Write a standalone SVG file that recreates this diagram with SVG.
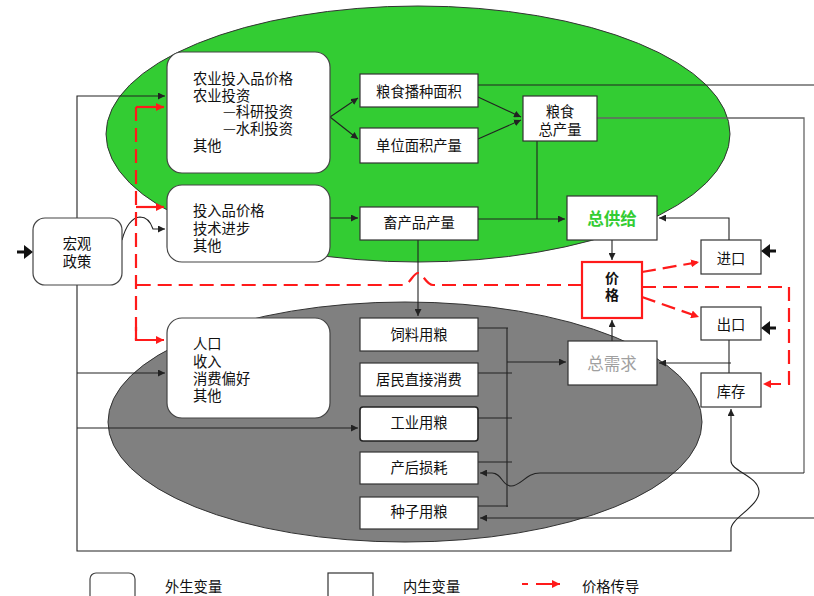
<svg xmlns="http://www.w3.org/2000/svg" width="814" height="596" viewBox="0 0 814 596">
<defs>
<style>
text{font-family:"Noto Sans CJK SC","Liberation Sans",sans-serif;font-size:14.3px;fill:#111}
.c{text-anchor:middle;dominant-baseline:central}
.l{dominant-baseline:central}
.box{fill:#fff;stroke:#333;stroke-width:1.2}
.rbox{fill:#fff;stroke:#444;stroke-width:1.2}
.ln{fill:none;stroke:#222;stroke-width:1.1}
.gl{fill:none;stroke:#666;stroke-width:1.3}
.rd{fill:none;stroke:#ff1a1a;stroke-width:2.2;stroke-dasharray:14 7}
.rs{fill:none;stroke:#ff1a1a;stroke-width:2.2}
</style>
<marker id="a" viewBox="0 0 8 8" refX="8" refY="4" markerWidth="7" markerHeight="7" markerUnits="userSpaceOnUse" orient="auto"><path d="M0,0 L8,4 L0,8 z" fill="#222"/></marker>
<marker id="ar" viewBox="0 0 8 8" refX="8" refY="4" markerWidth="8" markerHeight="8" markerUnits="userSpaceOnUse" orient="auto"><path d="M0,0 L8,4 L0,8 z" fill="#ff1a1a"/></marker>
</defs>
<rect width="814" height="596" fill="#fff"/>
<g id="supply-area"><ellipse cx="418" cy="134" rx="312" ry="128" fill="#33cc33" stroke="#333" stroke-width="1"/></g>
<g id="demand-area"><ellipse cx="405" cy="422" rx="297" ry="120" fill="#808080" stroke="#333" stroke-width="1"/></g>

<g id="connectors">
<path class="ln" d="M77,218 L77,96 L165,96" marker-end="url(#a)"/>
<path class="ln" d="M77,285 L77,551 L731,551 L731,529 C731,518 760,506 759,491 C758,476 731,471 731,461 L731,409" marker-end="url(#a)"/>
<path class="ln" d="M77,373 L165,373" marker-end="url(#a)"/>
<path class="ln" d="M77,428 L358,428" marker-end="url(#a)"/>
<path class="ln" d="M122,240 Q128,218 140,217 Q149,217 153,229 L165,229" marker-end="url(#a)"/>
<path class="ln" d="M330,117 L358,98" marker-end="url(#a)"/>
<path class="ln" d="M330,117 L358,139" marker-end="url(#a)"/>
<path class="ln" d="M478,97 L521,117" marker-end="url(#a)"/>
<path class="ln" d="M478,139 L521,120" marker-end="url(#a)"/>
<path class="ln" d="M330,218 L358,218" marker-end="url(#a)"/>
<path class="ln" d="M478,219 L565,219" marker-end="url(#a)"/>
<path class="ln" d="M537,141 L537,219"/>
<path class="ln" d="M729,240 L729,218 L659,218" marker-end="url(#a)"/>
<path class="ln" d="M612,240 L612,260" marker-end="url(#a)"/>
<path class="ln" d="M478,85 L814,85"/>
<path class="gl" d="M597,118 L804,118 L804,473"/>
<path class="ln" d="M804,473 L540,473 C526,473 521,486 511,486 C502,486 502,473 492,473 L480,473" marker-end="url(#a)"/>
<path class="ln" d="M814,518 L480,518" marker-end="url(#a)"/>
<path class="ln" d="M418,240 L418,316" marker-end="url(#a)"/>
<path class="ln" d="M478,328 L508,328 M507,328 L507,507 M478,373 L512,373 M478,418 L512,418 M478,462 L512,462 M478,506 L508,506"/>
<path class="ln" d="M507,362 L566,362" marker-end="url(#a)"/>
<path class="ln" d="M612,341 L612,320" marker-end="url(#a)"/>
<path class="ln" d="M729,340 L729,373"/>
<path class="ln" d="M731,363 L659,363" marker-end="url(#a)"/>
<path d="M17,252 L26,252" stroke="#111" stroke-width="3"/><path d="M24,245 L33,252 L24,259 z" fill="#111"/>
<path d="M776,251 L768,251" stroke="#111" stroke-width="3"/><path d="M770,244 L761,251 L770,258 z" fill="#111"/>
<path d="M776,328 L768,328" stroke="#111" stroke-width="3"/><path d="M770,321 L761,328 L770,335 z" fill="#111"/>
<path class="rd" d="M582,285 L433,285 C426,285 423,273 418,273 C413,273 410,285 403,285 L137,285"/>
<path class="rd" d="M136,107 L136,340"/>
<path class="rs" d="M136,107 L164,107" marker-end="url(#ar)"/>
<path class="rs" d="M136,207 L164,207" marker-end="url(#ar)"/>
<path class="rs" d="M136,327 L136,340 L164,340" marker-end="url(#ar)"/>
<path class="rd" d="M642,287 L789,287 L789,384 L763,384" marker-end="url(#ar)"/>
<path class="rd" d="M642,272 L699,262" marker-end="url(#ar)"/>
<path class="rd" d="M642,297 L699,317" marker-end="url(#ar)"/>
</g>

<g id="macro-policy"><rect class="rbox" x="33" y="218" width="89" height="67" rx="12"/><text class="c" x="77" y="242">宏观</text><text class="c" x="77" y="260">政策</text></g>
<g id="ag-inputs"><rect class="rbox" x="167" y="52" width="163" height="121" rx="15"/>
<text class="l" x="193" y="77">农业投入品价格</text><text class="l" x="193" y="94">农业投资</text><text class="l" x="223" y="110">—科研投资</text><text class="l" x="223" y="127">—水利投资</text><text class="l" x="193" y="144">其他</text></g>
<g id="livestock-inputs"><rect class="rbox" x="167" y="185" width="163" height="77" rx="15"/>
<text class="l" x="193" y="209">投入品价格</text><text class="l" x="193" y="227">技术进步</text><text class="l" x="193" y="244">其他</text></g>
<g id="demand-drivers"><rect class="rbox" x="167" y="318" width="163" height="100" rx="15"/>
<text class="l" x="193" y="342">人口</text><text class="l" x="193" y="360">收入</text><text class="l" x="193" y="377">消费偏好</text><text class="l" x="193" y="394">其他</text></g>

<g id="sown-area"><rect class="box" x="360" y="74" width="118" height="33"/><text class="c" x="419" y="90">粮食播种面积</text></g>
<g id="unit-yield"><rect class="box" x="360" y="128" width="118" height="35"/><text class="c" x="419" y="144">单位面积产量</text></g>
<g id="grain-output"><rect class="box" x="523" y="96" width="74" height="45"/><text class="c" x="560" y="110">粮食</text><text class="c" x="560" y="128">总产量</text></g>
<g id="livestock-output"><rect class="box" x="360" y="207" width="118" height="33"/><text class="c" x="419" y="221">畜产品产量</text></g>
<g id="total-supply"><rect class="box" x="567" y="196" width="90" height="44"/><text class="c" x="612" y="218" style="fill:#33cc33;font-weight:bold;font-size:16.5px">总供给</text></g>
<g id="import"><rect class="box" x="701" y="240" width="60" height="34"/><text class="c" x="731" y="257">进口</text></g>
<g id="price"><rect x="582" y="262" width="60" height="56" fill="#fff" stroke="#ff1a1a" stroke-width="2.2"/><text class="c" x="612" y="277" style="font-weight:bold;font-size:14px">价</text><text class="c" x="612" y="294" style="font-weight:bold;font-size:14px">格</text></g>
<g id="export"><rect class="box" x="701" y="307" width="60" height="33"/><text class="c" x="731" y="323">出口</text></g>
<g id="stock"><rect class="box" x="701" y="373" width="60" height="34"/><text class="c" x="731" y="390">库存</text></g>
<g id="total-demand"><rect class="box" x="568" y="341" width="89" height="44"/><text class="c" x="612" y="363" style="fill:#a0a0a0;font-size:16.5px">总需求</text></g>
<g id="feed"><rect class="box" x="360" y="318" width="118" height="33"/><text class="c" x="419" y="333">饲料用粮</text></g>
<g id="food"><rect class="box" x="360" y="363" width="118" height="33"/><text class="c" x="419" y="378">居民直接消费</text></g>
<g id="industrial"><rect x="360" y="407" width="118" height="34" rx="3" fill="#fff" stroke="#222" stroke-width="1.6"/><text class="c" x="419" y="421">工业用粮</text></g>
<g id="loss"><rect class="box" x="360" y="452" width="118" height="32"/><text class="c" x="419" y="466">产后损耗</text></g>
<g id="seed"><rect class="box" x="360" y="497" width="118" height="32"/><text class="c" x="419" y="510">种子用粮</text></g>

<g id="legend">
<rect class="rbox" x="90" y="573" width="45" height="30" rx="6"/><text class="l" x="165" y="585">外生变量</text>
<rect class="box" x="328" y="573" width="45" height="30"/><text class="l" x="403" y="585">内生变量</text>
<path class="rs" d="M522,584 L528,584 M536,584 L560,584" marker-end="url(#ar)"/><text class="l" x="582" y="585">价格传导</text>
</g>
</svg>
